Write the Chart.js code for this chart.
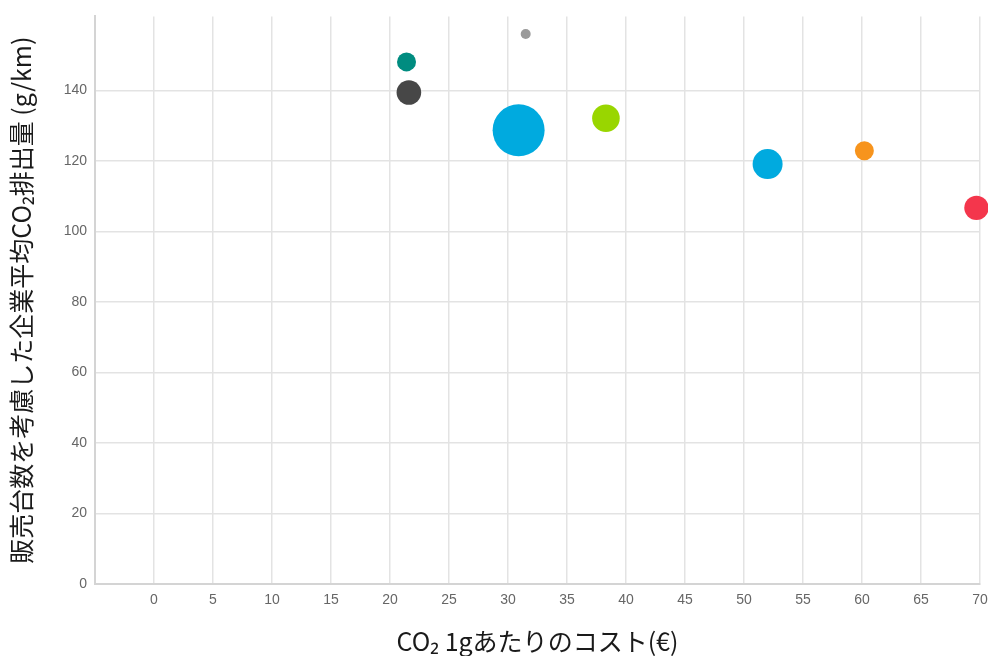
<!DOCTYPE html>
<html>
<head>
<meta charset="utf-8">
<script src="https://cdn.jsdelivr.net/npm/chart.js@4/dist/chart.umd.min.js"></script>
<style>
  html, body { margin: 0; padding: 0; background: #fff; }
  #wrap { width: 988px; height: 656px; }
</style>
</head>
<body>
<div id="wrap"><canvas id="co2Chart" width="988" height="656"></canvas></div>
<script>
// each bubble: cost per g (x), avg emissions (y), size (r, px)
const costX = [31.5, 21.4, 21.6, 30.9, 38.3, 52.0, 60.2, 69.7];
const emisY = [156.0, 148.1, 139.4, 128.7, 132.1, 119.1, 122.9, 106.7];
const sizeR = [5, 9.5, 12.3, 26, 13.8, 15, 9.5, 12.2];
const dotColors = ["#9a9a9a", "#008c80", "#474747", "#00aadf", "#99d600", "#00aadf", "#f7941d", "#f4364c"];

const xTicks = [0, 5, 10, 15, 20, 25, 30, 35, 40, 45, 50, 55, 60, 65, 70];
const yTicks = [0, 20, 40, 60, 80, 100, 120, 140];

const yTitle = "販売台数を考慮した企業平均CO₂排出量 (g/km)";
const xTitle = "CO₂ 1gあたりのコスト(€)";

const points = costX.map((x, i) => ({ x: x, y: emisY[i], r: sizeR[i] }));

const gridCol = "#e3e3e3";
const tickFont = { family: "'Liberation Sans', Arial, sans-serif", size: 14 };
const titleFont = { family: "'Noto Sans CJK JP', 'Noto Sans', sans-serif", size: 25 };

let co2_chart = new Chart("co2Chart", {
  type: "bubble",
  data: {
    datasets: [{
      data: points,
      backgroundColor: dotColors,
      borderWidth: 0,
      hoverBorderWidth: 0,
      clip: false
    }]
  },
  options: {
    responsive: false,
    animation: false,
    layout: { autoPadding: false, padding: { top: 14, right: 1, left: 0, bottom: 0 } },
    plugins: {
      legend: { display: false },
      tooltip: { enabled: false }
    },
    scales: {
      x: {
        type: "linear",
        min: -5,
        max: 70,
        afterBuildTicks: (axis) => { axis.ticks = xTicks.map(v => ({ value: v })); },
        afterFit: (axis) => { axis.height = 72; axis.paddingRight = 8; },
        grid: { color: gridCol, lineWidth: 1.5, drawTicks: false },
        border: { color: "#d4d4d4", width: 2 },
        ticks: { color: "#666", font: tickFont, padding: 8, maxRotation: 0 },
        title: { display: true, text: xTitle, color: "#1a1a1a", font: titleFont, padding: { top: 4, bottom: 0 } }
      },
      y: {
        type: "linear",
        min: 0,
        max: 161,
        afterBuildTicks: (axis) => { axis.ticks = yTicks.map(v => ({ value: v })); },
        afterFit: (axis) => { axis.width = 95; },
        grid: { color: gridCol, lineWidth: 1.5, drawTicks: false },
        border: { color: "#d4d4d4", width: 2 },
        ticks: { color: "#666", font: tickFont, padding: 8 },
        title: { display: true, text: yTitle, color: "#1a1a1a", font: titleFont, padding: { top: 6, bottom: 4 } }
      }
    }
  }
});
</script>
</body>
</html>
